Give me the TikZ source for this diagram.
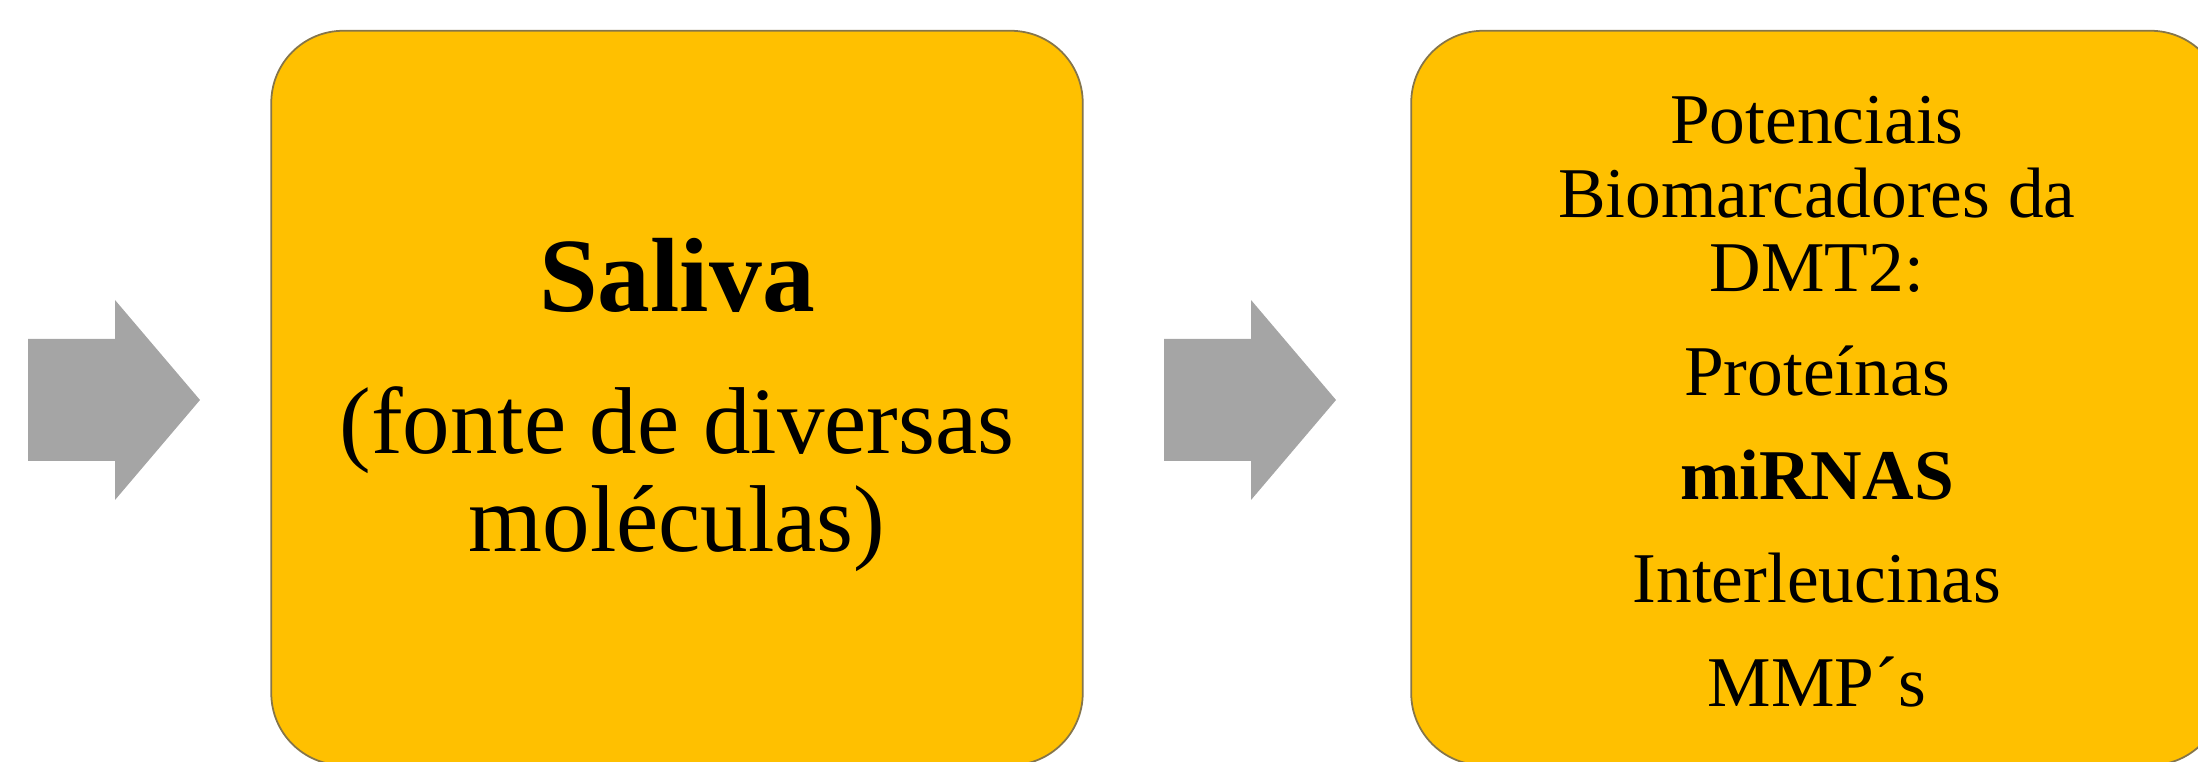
\documentclass[tikz,border=0pt]{standalone}
\usepackage{fontspec}
\setmainfont{Liberation Serif}
\usetikzlibrary{positioning}
\definecolor{boxgold}{HTML}{FFC000}
\definecolor{boxrim}{HTML}{85754A}
\definecolor{arrowgray}{HTML}{A5A5A5}
\tikzset{
  stagebox/.style={
    fill=boxgold,
    draw=boxrim,
    line width=0.5pt,
    rounded corners=0.72cm,
    minimum width=8.11cm,
    minimum height=7.34cm,
    inner sep=0pt
  },
  stagetext/.style={align=center, inner sep=0pt},
  stagearrow/.style={fill=arrowgray, draw=none}
}

\begin{document}
\begin{tikzpicture}[x=0.01cm, y=-0.01cm]

  \useasboundingbox (0,0) rectangle (2198,762);
  \clip (0,0) rectangle (2198,762);

  % block arrows
  \foreach \ax in {28,1164}
    \fill[stagearrow] (\ax,339) -- ++(87,0) -- ++(0,-39) -- ++(85,100)
      -- ++(-85,100) -- ++(0,-39) -- ++(-87,0) -- cycle;

  \node[stagebox] (saliva) at (677,398) {};
  \node[stagebox, right=3.265cm of saliva] (markers) {};

  \node[stagetext, font=\fontsize{27}{27.8}\selectfont] (salivatext)
    at ([yshift=-0.07cm]saliva.center)
    {{\fontsize{30}{30}\selectfont\bfseries Saliva}\\[12.8pt]
     (fonte de diversas\\mol\'eculas)};

  \node[stagetext, font=\fontsize{20.3}{21}\selectfont] (markerstext)
    at ([yshift=-0.04cm]markers.center)
    {Potenciais\\Biomarcadores da\\DMT2:\\[8.5pt]
     Prote\'{\i}nas\\[8.5pt]
     \textbf{miRNAS}\\[8.5pt]
     Interleucinas\\[8.5pt]
     MMP´s};

\end{tikzpicture}
\end{document}
